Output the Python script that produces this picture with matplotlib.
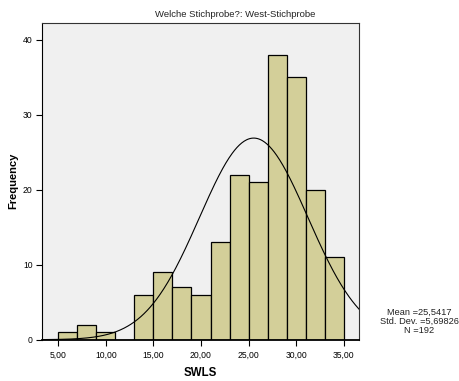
import matplotlib

matplotlib.use("Agg")
import matplotlib.pyplot as plt
import numpy as np

plt.rcParams["font.family"] = ["Liberation Sans", "DejaVu Sans"]

# histogram bins (SWLS, width 2) and counts
BIN_EDGES = [5, 7, 9, 11, 13, 15, 17, 19, 21, 23, 25, 27, 29, 31, 33, 35]
COUNTS = [1, 2, 1, 0, 6, 9, 7, 6, 13, 22, 21, 38, 35, 20, 11]
MEAN = 25.5417
STD = 5.69826
N = 192

X_TICKS = [5, 10, 15, 20, 25, 30, 35]
X_TICKLABELS = ["5,00", "10,00", "15,00", "20,00", "25,00", "30,00", "35,00"]
Y_TICKS = [0, 10, 20, 30, 40]


def main() -> None:
    fig = plt.figure(figsize=(4.6, 3.81), dpi=100)
    ax = fig.add_axes([42.3 / 460, 1 - 339.7 / 381, (359.3 - 42.3) / 460, (339.7 - 22.7) / 381])
    ax.set_facecolor("#f0f0f0")

    edges = np.array(BIN_EDGES, dtype=float)
    widths = np.diff(edges)
    ax.bar(edges[:-1], COUNTS, width=widths, align="edge", color="#d3cf99",
           edgecolor="black", linewidth=0.9)

    xmin, xmax = 3.32, 36.64
    xs = np.linspace(xmin, xmax, 400)
    bw = widths[0]
    curve = N * bw * np.exp(-0.5 * ((xs - MEAN) / STD) ** 2) / (STD * np.sqrt(2 * np.pi))
    ax.plot(xs, curve, color="black", lw=0.8)

    ax.set_xlim(xmin, xmax)
    ax.set_ylim(0, 42.27)
    ax.set_xticks(X_TICKS)
    ax.set_xticklabels(X_TICKLABELS)
    ax.set_yticks(Y_TICKS)
    ax.tick_params(labelsize=6.2, length=4, width=0.8, direction="out", pad=3)
    ax.tick_params(axis="x", pad=4)
    for s in ax.spines.values():
        s.set_color("#333333")
        s.set_linewidth(0.8)
    ax.spines["left"].set_color("black")
    ax.spines["bottom"].set_color("black")
    ax.spines["bottom"].set_linewidth(1.3)

    ax.set_xlabel("SWLS", fontsize=8.3, fontweight="bold", labelpad=5)
    ax.set_ylabel("Frequency", fontsize=8.0, fontweight="bold", labelpad=3)

    fig.text(235 / 460, 1 - 14.5 / 381, "Welche Stichprobe?: West-Stichprobe",
             ha="center", va="center", fontsize=6.8, color="#222222")
    stats = f"Mean ={MEAN:.4f}\nStd. Dev. ={STD:.5f}\nN ={N}".replace(".", ",")
    stats = stats.replace("Std, Dev,", "Std. Dev.")
    fig.text(419 / 460, 1 - 321.5 / 381, stats, ha="center", va="center",
             fontsize=6.7, linespacing=1.0, color="#222222")

    fig.savefig("out.png", dpi=100)


if __name__ == "__main__":
    main()
